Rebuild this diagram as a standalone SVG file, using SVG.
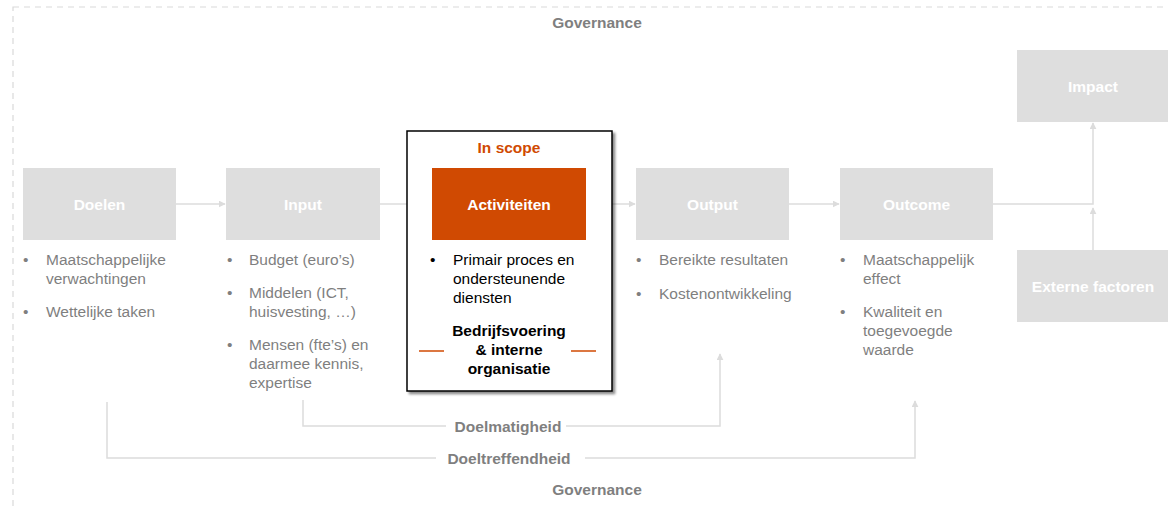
<svg xmlns="http://www.w3.org/2000/svg" width="1168" height="508" viewBox="0 0 1168 508">
<defs>
<style>
text{font-family:"Liberation Sans",Arial,sans-serif;font-size:15.5px}
.box{fill:#dedede}
.t{fill:#fff;font-weight:bold;text-anchor:middle}
.b{fill:#7f7f7f}
.g{fill:#7f7f7f;font-weight:bold;text-anchor:middle}
.k{fill:#000}
.kb{fill:#000;font-weight:bold;text-anchor:middle}
.c{fill:none;stroke:#dcdcdc;stroke-width:1.5}
</style>
<marker id="ah" viewBox="0 0 10 10" refX="9" refY="5" markerWidth="7" markerHeight="7" markerUnits="userSpaceOnUse" orient="auto">
<path d="M0,0 L10,5 L0,10 z" fill="#dcdcdc"/>
</marker>
<filter id="sh" x="-10%" y="-10%" width="120%" height="120%">
<feDropShadow dx="2.5" dy="2.5" stdDeviation="1.2" flood-color="#000" flood-opacity="0.45"/>
</filter>
</defs>
<rect width="1168" height="508" fill="#fff"/>
<rect x="13" y="7" width="1200" height="540" fill="none" stroke="#d9d9d9" stroke-width="1.2" stroke-dasharray="6 5"/>
<text class="g" x="597" y="28">Governance</text>
<text class="g" x="597" y="495">Governance</text>

<g id="connectors">
<line class="c" x1="176" y1="204" x2="225" y2="204" marker-end="url(#ah)"/>
<line class="c" x1="380" y1="204" x2="431" y2="204" marker-end="url(#ah)"/>
<line class="c" x1="586" y1="204" x2="635" y2="204" marker-end="url(#ah)"/>
<line class="c" x1="789" y1="204" x2="839" y2="204" marker-end="url(#ah)"/>
<polyline class="c" points="993,204 1093,204 1093,123" marker-end="url(#ah)"/>
<line class="c" x1="1093" y1="250" x2="1093" y2="208" marker-end="url(#ah)"/>
<polyline class="c" points="303,400 303,426 446,426"/>
<polyline class="c" points="566,426 720,426 720,354" marker-end="url(#ah)"/>
<polyline class="c" points="107,402 107,458 436,458"/>
<polyline class="c" points="585,458 915,458 915,401" marker-end="url(#ah)"/>
<text class="g" x="508" y="432">Doelmatigheid</text>
<text class="g" x="509" y="464">Doeltreffendheid</text>
</g>

<g id="doelen">
<rect class="box" x="23" y="168" width="153" height="72"/>
<text class="t" x="99.5" y="209.5">Doelen</text>
<text class="b" x="23" y="265">•</text>
<text class="b" x="46" y="265">Maatschappelijke</text>
<text class="b" x="46" y="284">verwachtingen</text>
<text class="b" x="23" y="317">•</text>
<text class="b" x="46" y="317">Wettelijke taken</text>
</g>

<g id="input">
<rect class="box" x="226" y="168" width="154" height="72"/>
<text class="t" x="303" y="209.5">Input</text>
<text class="b" x="227" y="265">•</text>
<text class="b" x="249" y="265">Budget (euro’s)</text>
<text class="b" x="227" y="298">•</text>
<text class="b" x="249" y="298">Middelen (ICT,</text>
<text class="b" x="249" y="317">huisvesting, …)</text>
<text class="b" x="227" y="350">•</text>
<text class="b" x="249" y="350">Mensen (fte’s) en</text>
<text class="b" x="249" y="369">daarmee kennis,</text>
<text class="b" x="249" y="388">expertise</text>
</g>

<g id="scope">
<rect x="407" y="131" width="205" height="260" fill="#fff" stroke="#000" stroke-width="1.5" filter="url(#sh)"/>
<text x="509" y="152.5" style="fill:#d04a02;font-weight:bold;text-anchor:middle">In scope</text>
</g>

<g id="activiteiten">
<rect x="432" y="168" width="154" height="72" fill="#d04a02"/>
<text class="t" x="509" y="209.5">Activiteiten</text>
<text class="k" x="430" y="265">•</text>
<text class="k" x="453" y="265">Primair proces en</text>
<text class="k" x="453" y="284">ondersteunende</text>
<text class="k" x="453" y="303">diensten</text>
<text class="kb" x="509" y="336">Bedrijfsvoering</text>
<text class="kb" x="509" y="355">&amp; interne</text>
<text class="kb" x="509" y="374">organisatie</text>
<line x1="419" y1="351" x2="444" y2="351" stroke="#d04a02" stroke-width="1.5"/>
<line x1="571" y1="351" x2="596" y2="351" stroke="#d04a02" stroke-width="1.5"/>
</g>

<g id="output">
<rect class="box" x="636" y="168" width="153" height="72"/>
<text class="t" x="712.5" y="209.5">Output</text>
<text class="b" x="636" y="265">•</text>
<text class="b" x="659" y="265">Bereikte resultaten</text>
<text class="b" x="636" y="299">•</text>
<text class="b" x="659" y="299">Kostenontwikkeling</text>
</g>

<g id="outcome">
<rect class="box" x="840" y="168" width="153" height="72"/>
<text class="t" x="916.5" y="209.5">Outcome</text>
<text class="b" x="840" y="265">•</text>
<text class="b" x="863" y="265">Maatschappelijk</text>
<text class="b" x="863" y="284">effect</text>
<text class="b" x="840" y="317">•</text>
<text class="b" x="863" y="317">Kwaliteit en</text>
<text class="b" x="863" y="336">toegevoegde</text>
<text class="b" x="863" y="355">waarde</text>
</g>

<g id="impact">
<rect class="box" x="1017" y="50" width="151" height="72"/>
<text class="t" x="1093" y="91.5">Impact</text>
</g>

<g id="externe">
<rect class="box" x="1017" y="250" width="151" height="72"/>
<text class="t" x="1093" y="292">Externe factoren</text>
</g>
</svg>
